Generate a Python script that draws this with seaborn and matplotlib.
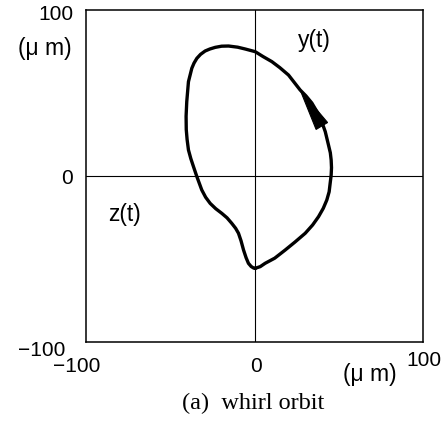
import numpy as np
import pandas as pd
import matplotlib
matplotlib.use("Agg")
import matplotlib.pyplot as plt
from matplotlib.patches import Polygon
import seaborn as sns

# Whirl orbit of the shaft centre: horizontal z(t) and vertical y(t), in micrometres
z_um = [0.4, 3.4, 6.3, 12, 18.2, 24, 30.1, 34.5, 38, 40.8, 42.9, 44.3, 44.9,
        45.5, 45.7, 45.5, 45, 43.9, 42, 40.5, 37.5, 34, 30.5, 27.1, 20.2, 15,
        10.3, 5, 0.4, -5.5, -10, -15.4, -19.5, -23.3, -26.5, -29.3, -32, -34.2,
        -35.9, -37.2, -39.2, -40.2, -40.6, -40.5, -40, -39.2, -37.8, -36.2,
        -34.2, -31.3, -29, -26.3, -23, -19.4, -16.3, -13.5, -11.2, -9.5, -8,
        -6.5, -5, -3.6, -2, -0.6, 0.4]
y_um = [-55.6, -54.6, -52.6, -49.5, -44.6, -39.8, -34.5, -29.5, -24.5, -19.5,
        -14.5, -9.5, -4.4, 0.6, 5, 9.6, 14, 18.7, 26.7, 31, 38, 44, 48.3, 51.8,
        60.8, 65.3, 68.9, 72, 74.9, 76.5, 77.6, 78.3, 78.2, 77.5, 76.5, 75.3,
        73.3, 70.9, 68, 64.9, 56.8, 44.8, 36, 28, 22, 15.7, 10.5, 5.6, -0.4,
        -8.4, -12.8, -16.5, -19.7, -22.5, -25.2, -28.5, -31.5, -34.5, -39,
        -44.6, -49.2, -52.6, -54.5, -55.4, -55.6]

# direction marker: arrow from this orbit sample toward the later one
arrow_from, arrow_to = 18, 23

axis_limits = [-100, 100]

orbit = pd.DataFrame({"z": z_um, "y": y_um})

sns.set_style("white")
plt.rcParams["font.family"] = ["Liberation Sans", "DejaVu Sans"]

W, H = 448, 422
fig = plt.figure(figsize=(W / 100, H / 100), dpi=100)
ax = fig.add_axes([86 / W, 1 - 342 / H, 337 / W, 332 / H])

ax.axhline(0, color="black", lw=0.8, zorder=1)
ax.axvline(0, color="black", lw=0.8, zorder=1)

sns.lineplot(data=orbit, x="z", y="y", sort=False, estimator=None,
             color="black", lw=2.4, ax=ax, zorder=3)
for ln in ax.lines:
    ln.set_solid_joinstyle("round")
    ln.set_solid_capstyle("round")

ax.set_xlim(axis_limits)
ax.set_ylim(axis_limits)
ax.set_xticks([])
ax.set_yticks([])
ax.set_xlabel("")
ax.set_ylabel("")
for s in ax.spines.values():
    s.set_visible(True)
    s.set_color("black")
    s.set_linewidth(1.1)

# arrowhead along the orbit, built in display pixels
fig.canvas.draw()
p0 = ax.transData.transform((z_um[arrow_from], y_um[arrow_from]))
p1 = ax.transData.transform((z_um[arrow_to], y_um[arrow_to]))
d = p1 - p0
d = d / np.hypot(*d)
nrm = np.array([-d[1], d[0]])
tip = p1
base = tip - 42 * d
head = Polygon([tip, base + 6.7 * nrm, base - 6.7 * nrm], closed=True,
               transform=None, facecolor="black", edgecolor="black",
               lw=0.8, zorder=4)
ax.add_patch(head)


def put(x, y, s, **kw):
    fig.text(x / W, 1 - y / H, s, **kw)


num = dict(fontsize=15, color="black")
put(73, 15, "100", ha="right", va="center", **num)
put(72, 49, "(μ m)", ha="right", va="center", fontsize=16.5, color="black")
put(73, 179, "0", ha="right", va="center", **num)
put(65, 351, "−100", ha="right", va="center", **num)
put(77, 366, "−100", ha="center", va="center", **num)
put(256, 366, "0", ha="center", va="center", **num)
put(370, 374, "(μ m)", ha="center", va="center", fontsize=16.5, color="black")
put(424, 361, "100", ha="center", va="center", **num)
put(314, 40, "y(t)", ha="center", va="center", fontsize=16.5, color="black")
put(124, 215, "z(t)", ha="center", va="center", fontsize=16.5, color="black")
put(253, 403, "(a)  whirl orbit", ha="center", va="center", fontsize=17.5,
    family=["Liberation Serif", "DejaVu Serif"], color="black")

fig.savefig("out.png", dpi=100)
